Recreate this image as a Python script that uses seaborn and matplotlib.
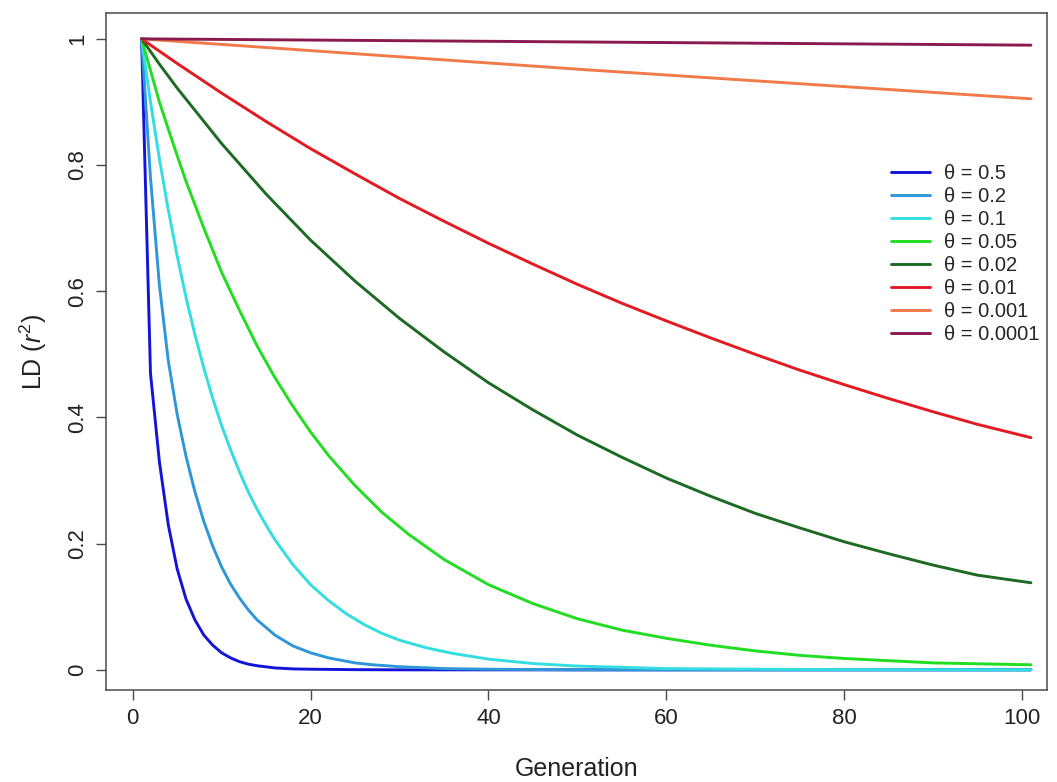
import numpy as np
import pandas as pd
import matplotlib
matplotlib.use("Agg")
import matplotlib.pyplot as plt
import seaborn as sns

# ---- data ----
labels = ["θ = 0.5", "θ = 0.2", "θ = 0.1", "θ = 0.05",
          "θ = 0.02", "θ = 0.01", "θ = 0.001", "θ = 0.0001"]
colors = ["#1414d8", "#2f97d8", "#33dde0", "#22dd22",
          "#1d6b22", "#e41a22", "#f27a4a", "#8a1a4e"]

gen_05 = [1, 2, 3, 4, 5, 6, 7, 8, 9, 10, 11, 12, 13, 14, 16, 18, 20, 25, 30, 101]
ld_05 = [1.0, 0.47, 0.33, 0.23, 0.16, 0.112, 0.079, 0.055, 0.039, 0.027,
         0.019, 0.013, 0.009, 0.0065, 0.003, 0.0015, 0.001, 0.0003, 0.0, 0.0]

gen_02 = [1, 2, 3, 4, 5, 6, 7, 8, 9, 10, 11, 12, 13, 14, 16, 18, 20, 22, 25, 27, 30,
          35, 40, 50, 101]
ld_02 = [1.0, 0.78, 0.61, 0.49, 0.405, 0.338, 0.282, 0.235, 0.196, 0.163,
         0.136, 0.114, 0.095, 0.079, 0.055, 0.038, 0.027, 0.019, 0.011, 0.008,
         0.005, 0.002, 0.001, 0.0, 0.0]

gen_01 = [1, 2, 3, 4, 5, 6, 7, 8, 9, 10, 11, 12, 13, 14, 15, 16, 18, 20, 22, 24, 26,
          28, 30, 33, 36, 40, 45, 50, 60, 70, 80, 101]
ld_01 = [1.0, 0.90, 0.81, 0.729, 0.656, 0.59, 0.531, 0.478, 0.43, 0.387, 0.349,
         0.314, 0.282, 0.254, 0.229, 0.206, 0.167, 0.135, 0.11, 0.089, 0.072,
         0.058, 0.047, 0.035, 0.026, 0.017, 0.01, 0.006, 0.002, 0.001, 0.0004, 0.0]

gen_005 = [1, 2, 3, 4, 5, 6, 8, 10, 12, 14, 16, 18, 20, 22, 25, 28, 31, 35, 40, 45,
           50, 55, 60, 65, 70, 75, 80, 90, 101]
ld_005 = [1.0, 0.95, 0.90, 0.857, 0.815, 0.774, 0.70, 0.63, 0.57, 0.513,
          0.463, 0.418, 0.377, 0.34, 0.292, 0.25, 0.215, 0.175, 0.135, 0.105,
          0.081, 0.063, 0.05, 0.039, 0.03, 0.023, 0.018, 0.011, 0.008]

gen_002 = [1, 2, 3, 5, 10, 15, 20, 25, 30, 35, 40, 45, 50, 55, 60, 65, 70, 75, 80,
           85, 90, 95, 101]
ld_002 = [1.0, 0.98, 0.96, 0.922, 0.834, 0.754, 0.681, 0.616, 0.557, 0.504,
          0.455, 0.412, 0.372, 0.337, 0.304, 0.275, 0.248, 0.225, 0.203, 0.184,
          0.166, 0.150, 0.138]

gen_001 = [1, 5, 10, 15, 20, 25, 30, 35, 40, 45, 50, 55, 60, 65, 70, 75, 80, 85,
           90, 95, 101]
ld_001 = [1.0, 0.961, 0.914, 0.869, 0.826, 0.786, 0.747, 0.711, 0.676, 0.643,
          0.611, 0.581, 0.553, 0.526, 0.500, 0.475, 0.452, 0.430, 0.409, 0.389, 0.368]

gen_0001 = [1, 51, 101]
ld_0001 = [1.0, 0.951, 0.905]

gen_00001 = [1, 51, 101]
ld_00001 = [1.0, 0.995, 0.990]

x_ticks = [0, 20, 40, 60, 80, 100]
y_ticks = [0, 0.2, 0.4, 0.6, 0.8, 1]
y_ticklabels = ["0", "0.2", "0.4", "0.6", "0.8", "1"]

series = [(gen_05, ld_05), (gen_02, ld_02), (gen_01, ld_01), (gen_005, ld_005),
          (gen_002, ld_002), (gen_001, ld_001), (gen_0001, ld_0001), (gen_00001, ld_00001)]

frames = []
for lab, (g, v) in zip(labels, series):
    frames.append(pd.DataFrame({"Generation": g, "LD": v, "theta": lab}))
df = pd.concat(frames, ignore_index=True)

# ---- style ----
sns.set_style("ticks")
plt.rcParams["font.family"] = ["Liberation Sans", "DejaVu Sans"]
plt.rcParams["mathtext.fontset"] = "custom"
plt.rcParams["mathtext.rm"] = "Liberation Sans"
plt.rcParams["mathtext.it"] = "Liberation Sans:italic"

fig = plt.figure(figsize=(10.57, 7.82), dpi=100)
ax = fig.add_axes([0.1003, 0.1176, 0.8902, 0.8658])

sns.lineplot(data=df, x="Generation", y="LD", hue="theta", hue_order=labels,
             palette=dict(zip(labels, colors)), estimator=None, sort=False,
             linewidth=2.1, ax=ax)
for ln in ax.get_lines():
    ln.set_solid_joinstyle("round")

ax.set_xlim(-3.0, 102.8)
ax.set_ylim(-0.032, 1.041)
ax.set_xticks(x_ticks)
ax.set_xticklabels([str(t) for t in x_ticks])
ax.set_yticks(y_ticks)
ax.set_yticklabels(y_ticklabels, rotation=90, va="center")

frame_col = "#4a4a4a"
for sp in ax.spines.values():
    sp.set_visible(True)
    sp.set_color(frame_col)
    sp.set_linewidth(1.1)
ax.tick_params(axis="both", direction="out", length=7, width=1.0,
               color=frame_col, labelsize=16, labelcolor="#222222", pad=6)

ax.set_xlabel("Generation", fontsize=18, labelpad=20, color="#222222")
ax.set_ylabel(r"LD ($r^2$)", fontsize=18, labelpad=13, color="#222222")

leg = ax.legend(loc="upper left", bbox_to_anchor=(0.826, 0.789), frameon=False,
                fontsize=14.5, handlelength=1.9, handletextpad=0.7,
                labelspacing=0.2, borderaxespad=0)
for line in leg.get_lines():
    line.set_linewidth(2.1)

fig.savefig("out.png", dpi=100)
